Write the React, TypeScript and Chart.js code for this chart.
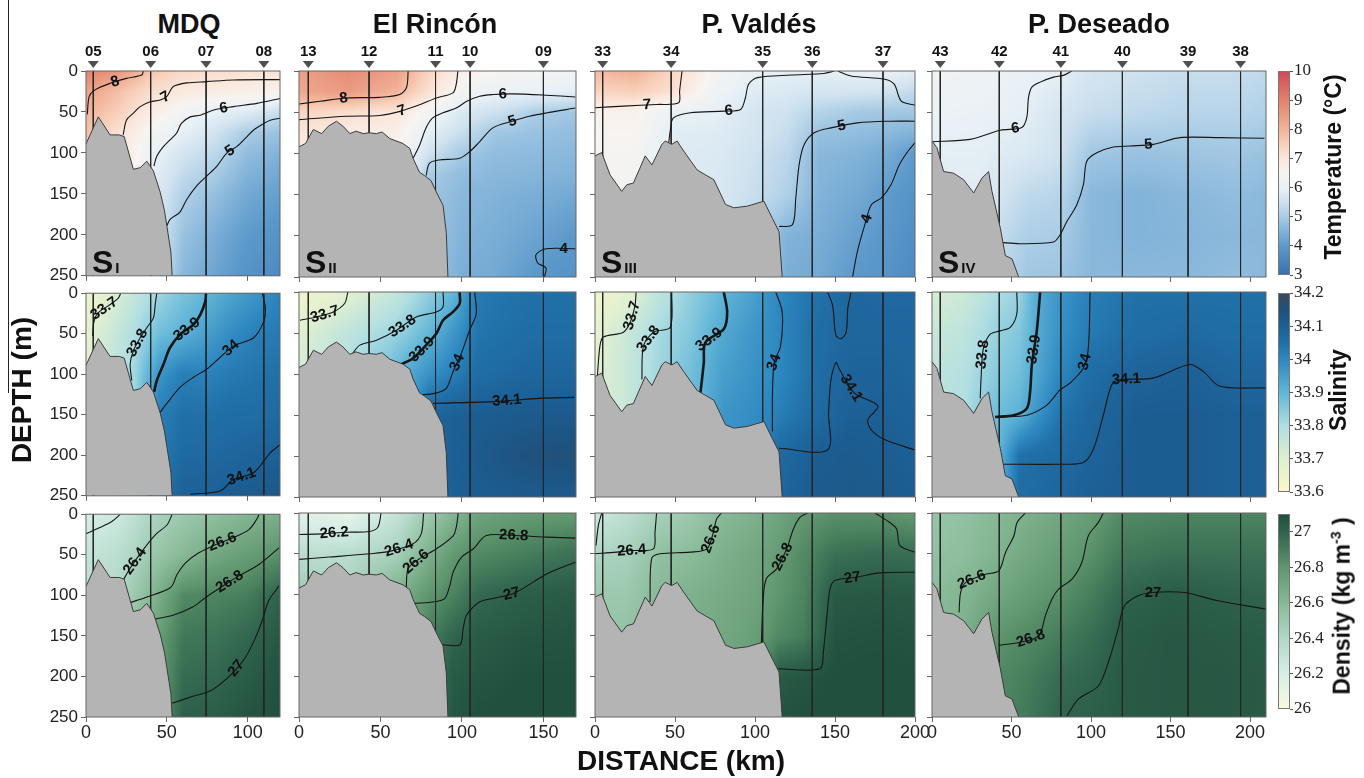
import React, { useEffect, useRef } from 'react';
import { Chart, registerables } from 'chart.js';

Chart.register(...registerables);

const FONT = '"Liberation Sans", Arial, Helvetica, sans-serif';
const SERIF = '"Liberation Serif", "Times New Roman", Times, serif';
Chart.defaults.font.family = FONT;

type P = [number, number];
type Contour = { v: string; pts: P[]; at?: number; bold?: boolean };
type Stop = [number, number, number, number];

// ---------------- column (section) data ----------------
const TITLES = ['MDQ', 'El Rincón', 'P. Valdés', 'P. Deseado'];
const SUBS = ['I', 'II', 'III', 'IV'];
const DIST_MAX = [120, 170, 200, 210];
const DIST_TICKS = [[0, 50, 100], [0, 50, 100, 150], [0, 50, 100, 150, 200], [0, 50, 100, 150, 200]];
const DEPTH_TICKS = [0, 50, 100, 150, 200, 250];

const MDQ_STATIONS = [4.5, 40, 74.3, 110];
const MDQ_STATION_NAMES = ['05', '06', '07', '08'];
const RINCON_STATIONS = [5.7, 43, 83.8, 105, 150];
const RINCON_STATION_NAMES = ['13', '12', '11', '10', '09'];
const VALDES_STATIONS = [4.8, 47.6, 104.8, 135.8, 180];
const VALDES_STATION_NAMES = ['33', '34', '35', '36', '37'];
const DESEADO_STATIONS = [5.2, 42.3, 81, 119.7, 161, 194];
const DESEADO_STATION_NAMES = ['43', '42', '41', '40', '39', '38'];

const MDQ_BATHY: P[] = [[0, 89], [7.6, 56], [14.9, 78], [20.5, 78], [23.6, 80], [29.3, 120], [33.5, 118], [37.6, 110], [41.7, 122], [45.9, 148], [48.5, 170], [50, 189], [52.5, 221], [53.3, 250]];
const RINCON_BATHY: P[] = [[0, 92], [4, 88], [8.8, 71], [13.9, 76], [18, 67], [23, 61], [27, 67], [31.2, 76], [35, 73], [39.4, 76], [43, 75], [47.5, 76], [51, 74], [55.7, 82], [63.8, 88], [68, 94], [70, 106], [74, 123], [77.1, 127], [81, 133], [84.3, 147], [88.4, 163], [90.4, 196], [91.4, 250]];
const VALDES_BATHY: P[] = [[0, 103], [4.2, 99], [9.4, 126], [16.7, 146], [19.9, 138], [24, 136], [31.4, 103], [35.6, 114], [41.8, 89], [43.9, 85], [48, 89], [51.3, 85], [55.4, 97], [63.8, 120], [69, 126], [74.3, 132], [81.6, 162], [86.8, 166], [95.2, 164], [105.6, 158], [110.9, 179], [115, 195], [117, 250]];
const DESEADO_BATHY: P[] = [[0, 85], [3.1, 93], [7.3, 122], [13.6, 124], [19.9, 132], [26.2, 148], [31.4, 130], [35.6, 122], [37.7, 146], [43, 191], [46.1, 224], [50.3, 228], [54.5, 250]];

// ---------------- temperature ----------------
const MDQ_T_X = [0, 20, 40, 60, 80, 100, 120];
const MDQ_T_D = [0, 25, 50, 75, 100, 150, 200, 250];
const MDQ_T_GRID = [
  [9.0, 8.4, 8.0, 7.8],
  [8.6, 7.8, 7.5, 7.1],
  [7.7, 7.2, 6.8, 6.4, 6.1, 5.9],
  [7.3, 6.9, 6.3, 5.95, 5.6, 5.1, 4.8, 4.6],
  [7.2, 6.8, 5.95, 5.55, 5.25, 4.75, 4.4, 4.2],
  [7.1, 6.7, 5.8, 5.0, 4.7, 4.3, 4.0, 3.8],
  [7.1, 6.6, 5.4, 4.8, 4.5, 4.1, 3.8, 3.6],
];
const MDQ_T_CONT: Contour[] = [
  { v: '8', pts: [[0.8, 53], [2, 31], [5.6, 23], [14.9, 15], [25, 9], [34.5, 5], [35.5, 0]], at: 3.3 },
  { v: '7', pts: [[23, 78], [25, 60], [29, 52], [33.5, 43.5], [39.7, 37.5], [45.9, 35.5], [50, 31], [54, 19], [62.4, 14.5], [74.8, 13], [91, 11], [120, 10.5]], at: 5.8 },
  { v: '6', pts: [[42, 116], [43.8, 104], [48, 92], [52, 84], [56, 76], [59, 64], [64.5, 56], [70.7, 54], [79, 47.6], [91.3, 43.5], [105.8, 39.5], [120, 33.5]], at: 8.5 },
  { v: '5', pts: [[50, 189], [52, 181], [58, 172.5], [62.4, 156.5], [68.6, 140], [74.8, 128], [81, 116], [87.2, 100], [93.4, 92], [99.6, 80], [103.7, 72], [110, 64], [114, 60], [120, 57.7]], at: 7.3 },
];

const RINCON_T_X = [0, 30, 60, 80, 100, 120, 145, 170];
const RINCON_T_D = [0, 25, 50, 75, 100, 125, 150, 200, 250];
const RINCON_T_GRID = [
  [8.4, 8.25, 7.4, 7.0],
  [8.8, 8.5, 7.2, 6.8],
  [8.4, 8.0, 7.0, 6.7, 6.5],
  [7.4, 7.1, 6.3, 5.9, 5.5, 5.0, 4.9],
  [6.7, 6.3, 5.7, 5.4, 4.95, 4.7, 4.6, 4.5, 4.4],
  [6.5, 6.05, 5.5, 4.9, 4.7, 4.6, 4.5, 4.4, 4.3],
  [6.4, 6.0, 5.05, 4.8, 4.65, 4.55, 4.4, 4.2, 3.95],
  [6.3, 5.9, 4.9, 4.7, 4.6, 4.5, 4.3, 3.95, 3.8],
];
const RINCON_T_CONT: Contour[] = [
  { v: '8', pts: [[0, 40], [12.9, 36.8], [29, 32.7], [49.6, 32], [61.8, 28.6], [66, 20], [67, 0]], at: 1.9 },
  { v: '7', pts: [[0, 59], [29, 55], [49.6, 54], [62, 49], [74, 41], [84.3, 32.7], [94.5, 26.5], [96.5, 16], [97.5, 0]], at: 3.1 },
  { v: '6', pts: [[70, 106], [74, 90], [78, 69], [82, 57], [88, 51], [96.5, 45], [102.7, 37], [110.8, 30.6], [119, 28.6], [131, 27.8], [151.6, 29.4], [169.6, 31.5]], at: 8.5 },
  { v: '5', pts: [[78, 127], [80, 112], [86, 108], [98.6, 106], [104.7, 98], [110.8, 86], [119, 69], [131, 61], [141.4, 55], [151.6, 51], [169.6, 45]], at: 7 },
  { v: '4', pts: [[169.6, 215.7], [151.6, 215.7], [145.5, 222.7], [146.5, 233], [151.6, 239], [150.6, 250]], at: 0.4 },
];

const VALDES_T_X = [0, 25, 50, 75, 100, 120, 140, 165, 185, 200];
const VALDES_T_D = [0, 25, 50, 75, 100, 150, 200, 250];
const VALDES_T_GRID = [
  [7.9, 7.4, 6.6, 6.5, 6.4],
  [8.1, 7.5, 6.6, 6.5, 6.4, 6.3],
  [7.3, 7.1, 6.0, 5.85, 5.8],
  [6.4, 6.2, 5.95, 5.8, 5.75, 5.7],
  [6.0, 5.8, 5.6, 5.6, 5.5, 5.4, 5.2],
  [5.95, 5.7, 5.5, 5.4, 5.25, 5.1, 4.5, 4.4],
  [5.95, 5.6, 5.15, 4.8, 4.6, 4.5, 4.4, 4.3],
  [6.0, 5.6, 4.95, 4.7, 4.5, 4.3, 4.1, 3.95],
  [6.0, 5.5, 4.9, 4.6, 4.3, 4.0, 3.9, 3.8],
  [5.9, 5.3, 4.9, 4.5, 4.0, 3.8, 3.7, 3.6],
];
const VALDES_T_CONT: Contour[] = [
  { v: '7', pts: [[0, 44.6], [17.8, 42.6], [38.7, 40.6], [52.3, 38.6], [52.9, 24], [54.4, 0]], at: 1.7 },
  { v: '6', pts: [[46, 89], [47, 73], [49, 57], [59.6, 50.7], [80.5, 48.7], [91, 46.7], [94, 32.5], [96, 16], [101.5, 8], [122.4, 4.9], [143, 3], [149.6, 0]], at: 4.3 },
  { v: '6', pts: [[151.7, 0], [160, 6], [181, 10], [187, 16], [191.4, 36.5], [200, 41.4]] },
  { v: '5', pts: [[115, 188.7], [123.4, 186.7], [125.5, 154], [127.6, 113.6], [130.8, 89], [137, 75], [147.5, 69], [164, 62.9], [185, 60.9], [200, 60.9]], at: 6.4 },
  { v: '4', pts: [[161, 250], [164, 219], [168.6, 186.7], [172.8, 162], [179, 154], [185, 138], [189.3, 117.7], [191.4, 109.6], [195.6, 97.4], [200, 87]], at: 2.3 },
];

const DESEADO_T_X = [0, 30, 60, 80, 100, 130, 160, 190, 210];
const DESEADO_T_D = [0, 50, 100, 150, 200, 250];
const DESEADO_T_GRID = [
  [6.3, 6.1, 5.9, 5.8],
  [6.2, 6.05, 5.9, 5.8, 5.6],
  [6.0, 5.9, 5.7, 5.3, 5.05, 4.9],
  [5.95, 5.6, 5.5, 5.2, 5.0, 4.85],
  [5.6, 5.4, 4.9, 4.6, 4.6, 4.6],
  [5.5, 5.3, 4.8, 4.5, 4.5, 4.6],
  [5.4, 5.2, 4.85, 4.6, 4.55, 4.6],
  [5.4, 5.2, 4.9, 4.7, 4.6, 4.7],
  [5.3, 5.1, 4.8, 4.6, 4.6, 4.6],
];
const DESEADO_T_CONT: Contour[] = [
  { v: '6', pts: [[87.9, 0], [82.6, 5.3], [76.4, 7.4], [68, 13.5], [62.8, 19.6], [60.7, 31.9], [59.6, 56.4], [56.5, 68.6], [42.9, 71.9], [24, 83], [0, 85.8]], at: 7.3 },
  { v: '5', pts: [[42.9, 208], [55.4, 209.6], [76.4, 207.5], [80.5, 199], [84.7, 183], [91, 162.6], [95.2, 138], [97.3, 109.5], [103.6, 99.3], [114, 92.3], [124.5, 91], [139, 89], [155.9, 80.9], [181, 80.9], [209, 81.7]], at: 10.8 },
];

// ---------------- salinity ----------------
const DEPTHS6 = [0, 50, 100, 150, 200, 250];
const MDQ_S_X = [0, 15, 30, 45, 60, 75, 90, 105, 120];
const MDQ_S_GRID = [
  [33.66, 33.68, 33.7],
  [33.7, 33.74, 33.76],
  [33.76, 33.8, 33.82],
  [33.82, 33.88, 33.97, 34.02],
  [33.87, 33.91, 34.02, 34.05, 34.07, 34.1],
  [33.9, 33.95, 34.01, 34.05, 34.07, 34.1],
  [33.94, 33.99, 34.03, 34.06, 34.08, 34.11],
  [33.97, 34.02, 34.04, 34.06, 34.09, 34.12],
  [34.01, 34.03, 34.05, 34.07, 34.1, 34.13],
];
const MDQ_S_CONT: Contour[] = [
  { v: '33.7', pts: [[4.1, 53], [5, 34.5], [7.6, 24], [14.9, 14], [20, 6], [21.5, 0]], at: 2.5 },
  { v: '33.8', pts: [[28.3, 107.7], [27.3, 87.4], [29.3, 71], [33.5, 55], [37.6, 42.7], [41.7, 30.5], [42.8, 14], [43.8, 0]], at: 2.6 },
  { v: '33.9', pts: [[42.1, 122], [43.8, 107.7], [48, 87.4], [52, 67], [58.3, 50.8], [66.5, 38.6], [70.7, 26.4], [73.8, 10], [74.2, 0]], at: 4.5, bold: true },
  { v: '34', pts: [[45.5, 148], [50, 136], [58.3, 116], [66.5, 103.7], [74.8, 93.5], [83, 79], [91.3, 65], [103.7, 55], [110, 34.5], [111, 18.3], [109, 0]], at: 5.8 },
  { v: '34.1', pts: [[64.5, 248], [83, 244], [91.3, 229.7], [103.7, 221.5], [114, 197], [120, 187]], at: 2.4 },
];

const RINCON_S_X = [0, 30, 60, 80, 95, 110, 140, 170];
const RINCON_S_GRID = [
  [33.64, 33.7, 33.72],
  [33.69, 33.77, 33.8],
  [33.76, 33.83, 33.9],
  [33.84, 33.9, 33.98, 34.08],
  [33.9, 33.97, 34.02, 34.1, 34.1, 34.1],
  [34.03, 34.04, 34.06, 34.11, 34.12, 34.11],
  [34.05, 34.06, 34.08, 34.12, 34.15, 34.12],
  [34.05, 34.06, 34.08, 34.12, 34.16, 34.12],
];
const RINCON_S_CONT: Contour[] = [
  { v: '33.7', pts: [[0.6, 34.4], [10.8, 30.4], [21, 24.3], [28, 14], [30, 0]], at: 1.5 },
  { v: '33.8', pts: [[32.2, 77], [37.3, 64.8], [47.6, 58.8], [59.8, 46.6], [72, 30.4], [84.3, 24.3], [88.4, 18.2], [88.4, 0]], at: 3.3 },
  { v: '33.9', pts: [[61.8, 89], [70, 81], [76, 69], [84.3, 50.6], [88.4, 34.4], [94.5, 24.3], [98.6, 14.2], [98.6, 0]], at: 1.9, bold: true },
  { v: '34', pts: [[74, 125.6], [83.3, 123.6], [90.4, 117.5], [94.5, 97.2], [99.6, 75], [104.7, 46.6], [108.8, 26.3], [107.8, 0]], at: 3.5 },
  { v: '34.1', pts: [[82.2, 135.7], [119, 133.7], [147.6, 129.7], [169, 128.5]], at: 1.3 },
];

const VALDES_S_X = [0, 20, 40, 60, 80, 100, 115, 140, 160, 180, 200];
const VALDES_S_GRID = [
  [33.64, 33.68, 33.7],
  [33.68, 33.75, 33.75],
  [33.77, 33.81, 33.82],
  [33.84, 33.86, 33.88],
  [33.9, 33.93, 33.95, 33.97],
  [33.95, 33.97, 33.98, 33.99],
  [34.0, 34.0, 34.0, 34.02, 34.07, 34.08],
  [34.05, 34.06, 34.06, 34.07, 34.11, 34.12],
  [34.08, 34.08, 34.09, 34.1, 34.12, 34.12],
  [34.07, 34.08, 34.09, 34.1, 34.11, 34.12],
  [34.07, 34.08, 34.08, 34.09, 34.1, 34.11],
];
const VALDES_S_CONT: Contour[] = [
  { v: '33.7', pts: [[1.5, 102], [3.1, 65.6], [5.2, 55], [17.8, 49], [22, 37], [25, 16.4], [25.7, 0]], at: 4.4 },
  { v: '33.8', pts: [[29.3, 106.6], [30.3, 65.6], [36.6, 49], [47, 43], [48, 0]], at: 1.5 },
  { v: '33.9', pts: [[65.9, 123], [68, 86], [69, 61.5], [80.5, 45], [82.6, 24.6], [80.5, 0]], at: 2.2, bold: true },
  { v: '34', pts: [[110.9, 170], [110.9, 127], [112, 86], [116, 65.6], [117, 24.6], [113, 0]], at: 2.0 },
  { v: '34.1', pts: [[145.4, 0], [148.5, 16.4], [150.6, 53], [153.8, 57], [157, 49], [158, 20], [160, 0]] },
  { v: '34.1', pts: [[115, 190.6], [145.4, 192.6], [146, 147.5], [147.5, 106.6], [150.6, 86], [152.7, 94], [162, 123], [176.8, 139], [170.5, 155.7], [172.6, 168], [181, 180], [199.8, 192.6]], at: 5.8 },
];

const DESEADO_S_X = [0, 20, 40, 55, 65, 80, 100, 130, 160, 190, 210];
const DESEADO_S_GRID = [
  [33.72, 33.75, 33.77],
  [33.74, 33.77, 33.79, 33.8],
  [33.8, 33.83, 33.85, 33.88],
  [33.83, 33.86, 33.88, 33.91, 34.05, 34.06],
  [33.92, 33.92, 33.93, 33.97, 34.06, 34.07],
  [33.97, 33.98, 34.0, 34.04, 34.07, 34.08],
  [34.02, 34.03, 34.06, 34.08, 34.09, 34.1],
  [34.05, 34.06, 34.09, 34.11, 34.11, 34.11],
  [34.05, 34.07, 34.1, 34.11, 34.11, 34.11],
  [34.05, 34.06, 34.08, 34.1, 34.1, 34.1],
  [34.05, 34.06, 34.08, 34.1, 34.1, 34.1],
];
const DESEADO_S_CONT: Contour[] = [
  { v: '33.8', pts: [[30.3, 129.7], [31.4, 84.4], [32.4, 68], [36.6, 51.5], [42.9, 47.4], [49.2, 43.2], [53.3, 26.8], [53.3, 0]], at: 1.5 },
  { v: '33.9', pts: [[39.7, 152.4], [51.3, 150.3], [59.6, 142], [61.7, 121.5], [62.8, 88.5], [65.9, 47.4], [68, 0]], at: 4.45, bold: true },
  { v: '34', pts: [[42.9, 152.4], [59.6, 150.3], [72.2, 138], [80.5, 119.4], [86.8, 111], [95.2, 92.7], [98.3, 68], [99.4, 0]], at: 5.3 },
  { v: '34.1', pts: [[42.9, 210], [80.5, 210], [95.2, 208], [101.5, 191.5], [107.7, 150.3], [113, 113], [118, 107], [139, 105], [162, 88.5], [170.5, 96.8], [181, 115], [210, 117]], at: 6.2 },
];

// ---------------- density ----------------
const MDQ_D_X = [0, 20, 40, 60, 80, 100, 120];
const MDQ_D_GRID = [
  [26.2, 26.3, 26.35],
  [26.25, 26.35, 26.4],
  [26.42, 26.5, 26.6, 26.7],
  [26.5, 26.6, 26.85, 26.92, 26.97, 27.02],
  [26.56, 26.7, 26.87, 26.94, 26.99, 27.03],
  [26.62, 26.76, 26.9, 26.99, 27.04, 27.08],
  [26.65, 26.82, 27.01, 27.06, 27.09, 27.1],
];
const MDQ_D_CONT: Contour[] = [
  { v: '26.2', pts: [[0, 24], [7.9, 17], [16, 9], [21.3, 0]] },
  { v: '26.4', pts: [[23.3, 80.2], [27.5, 66], [34.7, 45.6], [43, 25.2], [50.2, 13], [53.3, 0]], at: 1.4 },
  { v: '26.6', pts: [[27.7, 108.7], [36.8, 102.6], [52.3, 90.4], [56.4, 74], [61.6, 59.9], [69.8, 47.6], [80.2, 37.5], [90.5, 29.3], [100.8, 19], [106, 4.9], [107, 0]], at: 6.4 },
  { v: '26.8', pts: [[43, 129], [53.3, 125], [65.7, 114.8], [74, 102.6], [86.4, 86.3], [94.6, 76], [107, 62], [119.4, 41.5]], at: 4.3 },
  { v: '27', pts: [[53.3, 233], [65.7, 224.8], [78, 216.6], [90.5, 196.3], [98.8, 176], [105, 151.5], [109, 131], [113, 106.7], [119.4, 88.4]], at: 3.3 },
];

const RINCON_D_X = [0, 30, 60, 80, 95, 110, 140, 170];
const RINCON_D_GRID = [
  [26.15, 26.35, 26.5],
  [26.1, 26.36, 26.45],
  [26.3, 26.45, 26.65],
  [26.5, 26.65, 26.8, 26.9],
  [26.62, 26.78, 26.88, 27.0, 27.05, 27.07],
  [26.72, 26.85, 26.98, 27.04, 27.07, 27.1],
  [26.77, 26.9, 27.03, 27.07, 27.1, 27.12],
  [26.78, 26.95, 27.05, 27.08, 27.1, 27.12],
];
const RINCON_D_CONT: Contour[] = [
  { v: '26.2', pts: [[0, 26.4], [14.4, 25.6], [28.8, 23.5], [43.2, 22.7], [48.4, 17.5], [50.4, 0]], at: 1.5 },
  { v: '26.4', pts: [[0, 56.8], [18.5, 54], [43.2, 50], [55.6, 47], [70, 37.7], [75, 25.6], [76.5, 0]], at: 3.4 },
  { v: '26.6', pts: [[65.8, 92.5], [67, 68], [74, 56], [84.4, 43.8], [94.7, 27.6], [96.7, 15.4], [97.7, 0]], at: 1.7 },
  { v: '26.8', pts: [[71, 110.8], [83.3, 108.8], [89.5, 104.7], [92.6, 88.5], [94.7, 72], [99.8, 54], [107, 43.8], [115, 27.6], [131.7, 27.6], [152.3, 29.6], [169.8, 30.8]], at: 8 },
  { v: '27', pts: [[88, 161.5], [98.8, 161.5], [100.8, 141], [102.9, 125], [111, 108.8], [119.3, 104.7], [131.7, 98.6], [144, 84.4], [152.3, 74.3], [169.8, 60]], at: 5.9 },
];

const VALDES_D_X = [0, 20, 40, 60, 80, 100, 115, 130, 150, 175, 200];
const VALDES_D_GRID = [
  [26.25, 26.42, 26.5],
  [26.35, 26.45, 26.5, 26.55],
  [26.45, 26.55, 26.6],
  [26.5, 26.58, 26.65],
  [26.6, 26.65, 26.68, 26.7],
  [26.65, 26.7, 26.72, 26.75],
  [26.72, 26.77, 26.8, 26.85, 27.05, 27.08],
  [26.78, 26.85, 26.87, 26.9, 27.07, 27.1],
  [26.82, 26.95, 27.05, 27.08, 27.1, 27.12],
  [26.82, 26.97, 27.06, 27.09, 27.11, 27.13],
  [26.78, 26.96, 27.05, 27.08, 27.1, 27.12],
];
const VALDES_D_CONT: Contour[] = [
  { v: '26.2', pts: [[0.6, 40], [2.1, 15.5], [4.2, 0]] },
  { v: '26.4', pts: [[0, 50], [13.5, 48], [23, 46], [36.5, 44], [37.5, 23.7], [38.5, 0]], at: 2 },
  { v: '26.6', pts: [[34.4, 109], [35.4, 56], [40.6, 50], [59.4, 48], [70, 44], [74, 23.7], [76, 7.3], [79, 0]], at: 4.6 },
  { v: '26.8', pts: [[104, 160], [105, 109], [107, 80.8], [113.5, 68.5], [119.8, 44], [124, 19.6], [128, 5.3], [133, 0]], at: 3.6 },
  { v: '26.8', pts: [[175, 0], [184, 11.4], [188.5, 19.6], [190.6, 40], [200, 48]] },
  { v: '27', pts: [[114.6, 190.9], [140.6, 190.9], [142.7, 170.5], [144.8, 129.7], [146.9, 93], [150, 82.8], [163.5, 78.7], [178, 73.4], [200, 72.6]], at: 5.8 },
];

const DESEADO_D_X = [0, 20, 40, 60, 80, 100, 120, 150, 180, 210];
const DESEADO_D_GRID = [
  [26.52, 26.55, 26.58],
  [26.55, 26.57, 26.62, 26.65],
  [26.6, 26.63, 26.7, 26.8, 26.85],
  [26.65, 26.7, 26.77, 26.85, 26.9, 26.92],
  [26.7, 26.76, 26.82, 26.9, 26.97, 27.0],
  [26.76, 26.82, 26.9, 26.96, 27.0, 27.02],
  [26.85, 26.92, 27.0, 27.04, 27.05, 27.05],
  [26.87, 26.95, 27.04, 27.06, 27.06, 27.06],
  [26.87, 26.95, 27.02, 27.05, 27.06, 27.06],
  [26.87, 26.95, 27.0, 27.04, 27.05, 27.05],
];
const DESEADO_D_CONT: Contour[] = [
  { v: '26.6', pts: [[17, 122], [18, 97.4], [21.25, 85], [33.75, 75], [42, 70.8], [46.25, 48.3], [51.5, 27.8], [53.5, 11.5], [58.75, 0]], at: 2.3 },
  { v: '26.8', pts: [[42, 162], [54.6, 158.8], [67, 150.6], [71.25, 126], [75.4, 105.6], [79.6, 93.3], [88, 81], [94.2, 60.6], [98.3, 27.8], [104.6, 11.5], [107.7, 0]], at: 1.6 },
  { v: '27', pts: [[84.8, 248.8], [92, 228], [104.6, 212], [110.8, 183.3], [117, 142.4], [121, 113.7], [129.6, 101.5], [137.9, 97.4], [158.75, 97.4], [179.6, 107.6], [210.4, 117.8]], at: 7.05 },
];

// ---------------- colour scales ----------------
const TEMP_TICKS = [3, 4, 5, 6, 7, 8, 9, 10];
const SAL_TICKS = [33.6, 33.7, 33.8, 33.9, 34, 34.1, 34.2];
const DENS_TICKS = [26, 26.2, 26.4, 26.6, 26.8, 27];
const TEMP_STOPS: Stop[] = [
  [3.0, 59, 111, 176], [3.5, 74, 134, 192], [4.0, 93, 154, 203], [4.5, 130, 179, 217], [5.0, 169, 204, 229],
  [5.5, 207, 226, 239], [6.0, 233, 241, 246], [6.5, 247, 244, 241], [7.0, 251, 230, 218], [7.5, 248, 208, 187],
  [8.0, 242, 180, 154], [9.0, 227, 130, 108], [10.0, 210, 73, 93],
];
const SAL_STOPS: Stop[] = [
  [33.6, 250, 246, 205], [33.7, 224, 240, 208], [33.8, 176, 222, 226], [33.9, 98, 182, 216], [34.0, 46, 136, 192],
  [34.05, 33, 112, 168], [34.1, 28, 96, 150], [34.15, 30, 82, 126], [34.2, 62, 74, 88],
];
const DENS_STOPS: Stop[] = [
  [26.0, 250, 250, 222], [26.2, 215, 238, 232], [26.4, 178, 216, 200], [26.6, 135, 185, 150], [26.8, 95, 150, 110],
  [26.9, 70, 125, 92], [27.0, 48, 100, 78], [27.1, 32, 80, 62],
];

// ---------------- assembled tables ----------------
const STATIONS = [MDQ_STATIONS, RINCON_STATIONS, VALDES_STATIONS, DESEADO_STATIONS];
const STATION_NAMES = [MDQ_STATION_NAMES, RINCON_STATION_NAMES, VALDES_STATION_NAMES, DESEADO_STATION_NAMES];
const BATHY = [MDQ_BATHY, RINCON_BATHY, VALDES_BATHY, DESEADO_BATHY];
type Field = { xs: number[]; ds: number[]; grid: number[][]; stops: Stop[]; cont: Contour[] };
const FIELDS: Field[][] = [
  [
    { xs: MDQ_T_X, ds: MDQ_T_D, grid: MDQ_T_GRID, stops: TEMP_STOPS, cont: MDQ_T_CONT },
    { xs: RINCON_T_X, ds: RINCON_T_D, grid: RINCON_T_GRID, stops: TEMP_STOPS, cont: RINCON_T_CONT },
    { xs: VALDES_T_X, ds: VALDES_T_D, grid: VALDES_T_GRID, stops: TEMP_STOPS, cont: VALDES_T_CONT },
    { xs: DESEADO_T_X, ds: DESEADO_T_D, grid: DESEADO_T_GRID, stops: TEMP_STOPS, cont: DESEADO_T_CONT },
  ],
  [
    { xs: MDQ_S_X, ds: DEPTHS6, grid: MDQ_S_GRID, stops: SAL_STOPS, cont: MDQ_S_CONT },
    { xs: RINCON_S_X, ds: DEPTHS6, grid: RINCON_S_GRID, stops: SAL_STOPS, cont: RINCON_S_CONT },
    { xs: VALDES_S_X, ds: DEPTHS6, grid: VALDES_S_GRID, stops: SAL_STOPS, cont: VALDES_S_CONT },
    { xs: DESEADO_S_X, ds: DEPTHS6, grid: DESEADO_S_GRID, stops: SAL_STOPS, cont: DESEADO_S_CONT },
  ],
  [
    { xs: MDQ_D_X, ds: DEPTHS6, grid: MDQ_D_GRID, stops: DENS_STOPS, cont: MDQ_D_CONT },
    { xs: RINCON_D_X, ds: DEPTHS6, grid: RINCON_D_GRID, stops: DENS_STOPS, cont: RINCON_D_CONT },
    { xs: VALDES_D_X, ds: DEPTHS6, grid: VALDES_D_GRID, stops: DENS_STOPS, cont: VALDES_D_CONT },
    { xs: DESEADO_D_X, ds: DEPTHS6, grid: DESEADO_D_GRID, stops: DENS_STOPS, cont: DESEADO_D_CONT },
  ],
];

// ---------------- layout (pixels) ----------------
const PLOT_LEFT = [86, 299, 595, 932];
const PLOT_RIGHT = [280, 576, 915, 1266];
const PLOT_TOP = [71, 292, 513];
const PLOT_BOTTOM = [277, 497, 717];
const TITLE_X = [189, 435, 759, 1099];

// ---------------- helpers ----------------
function cmap(stops: Stop[], v: number): [number, number, number] {
  if (v <= stops[0][0]) return [stops[0][1], stops[0][2], stops[0][3]];
  for (let k = 1; k < stops.length; k++) {
    if (v <= stops[k][0]) {
      const a = stops[k - 1], b = stops[k];
      const t = (v - a[0]) / (b[0] - a[0]);
      return [a[1] + (b[1] - a[1]) * t, a[2] + (b[2] - a[2]) * t, a[3] + (b[3] - a[3]) * t];
    }
  }
  const l = stops[stops.length - 1];
  return [l[1], l[2], l[3]];
}
function seg(arr: number[], v: number): [number, number] {
  if (v <= arr[0]) return [0, 0];
  for (let i = 0; i < arr.length - 1; i++) {
    if (v <= arr[i + 1]) return [i, (v - arr[i]) / (arr[i + 1] - arr[i])];
  }
  return [arr.length - 2, 1];
}
function fullGrid(grid: number[][], n: number): number[][] {
  return grid.map((row) => {
    const r = row.slice();
    while (r.length < n) r.push(r[r.length - 1]);
    return r;
  });
}
function sample(f: Field, g: number[][], x: number, d: number) {
  const [i, tx] = seg(f.xs, x);
  const [j, td] = seg(f.ds, d);
  const a = g[i][j] * (1 - td) + g[i][j + 1] * td;
  const b = g[i + 1][j] * (1 - td) + g[i + 1][j + 1] * td;
  return a * (1 - tx) + b * tx;
}
const toXY = (pts: P[]) => pts.map(([x, y]) => ({ x, y }));

function Panel({ row, col }: { row: number; col: number }) {
  const ref = useRef<HTMLCanvasElement>(null);
  const YW = col === 0 ? 55 : 12;
  const TOP = row === 0 ? 30 : 12;
  const XH = row === 2 ? 30 : 12;
  const RP = 24;
  const W = PLOT_RIGHT[col] - PLOT_LEFT[col] + YW + RP;
  const H = PLOT_BOTTOM[row] - PLOT_TOP[row] + TOP + XH;

  useEffect(() => {
    const f = FIELDS[row][col];
    const g = fullGrid(f.grid, f.ds.length);
    const stations = STATIONS[col];
    const names = STATION_NAMES[col];
    const datasets: any[] = [];
    stations.forEach((s) =>
      datasets.push({ data: [{ x: s, y: 0 }, { x: s, y: 250 }], borderColor: '#262626', borderWidth: 1, pointRadius: 0, tension: 0, order: 4, fill: false })
    );
    f.cont.forEach((c) =>
      datasets.push({ data: toXY(c.pts), borderColor: '#161616', borderWidth: c.bold ? 2.6 : 1.1, pointRadius: 0, tension: 0.3, order: 3, fill: false })
    );
    datasets.push({ data: toXY(BATHY[col]), borderColor: '#3c3c3c', borderWidth: 1, backgroundColor: '#b4b4b4', fill: { value: 250 }, pointRadius: 0, tension: 0, order: 2 });

    const tickGrid = { drawOnChartArea: false, drawTicks: true, tickLength: 5, color: '#666' };
    const scales: any = {
      x: {
        type: 'linear', position: 'bottom', min: 0, max: DIST_MAX[col], bounds: 'data',
        afterBuildTicks: (s: any) => { s.ticks = DIST_TICKS[col].map((v) => ({ value: v })); },
        afterFit: (s: any) => { s.height = XH; },
        grid: tickGrid, border: { display: false },
        ticks: { display: row === 2, font: { size: 18, family: FONT }, color: '#222', padding: 0, maxRotation: 0, autoSkip: false },
      },
      y: {
        type: 'linear', reverse: true, min: 0, max: 250, bounds: 'data',
        afterBuildTicks: (s: any) => { s.ticks = DEPTH_TICKS.map((v) => ({ value: v })); },
        afterFit: (s: any) => { s.width = YW; },
        grid: tickGrid, border: { display: false },
        ticks: { display: col === 0, font: { size: 17, family: FONT }, color: '#222', padding: 3, autoSkip: false },
      },
    };
    if (row === 0) {
      scales.x2 = {
        type: 'linear', position: 'top', min: 0, max: DIST_MAX[col], bounds: 'data',
        afterBuildTicks: (s: any) => { s.ticks = stations.map((v) => ({ value: v })); },
        afterFit: (s: any) => { s.height = TOP; },
        grid: { display: false, drawTicks: false }, border: { display: false },
        ticks: { font: { size: 15, weight: 'bold', family: FONT }, color: '#111', padding: 10, maxRotation: 0, autoSkip: false, callback: (_v: any, i: number) => names[i] },
      };
    }

    const heat = {
      id: 'heat',
      beforeDatasetsDraw(chart: any) {
        const { left, top, width, height } = chart.chartArea;
        const w = Math.round(width), h = Math.round(height);
        const off = document.createElement('canvas');
        off.width = w; off.height = h;
        const octx = off.getContext('2d')!;
        const img = octx.createImageData(w, h);
        const xs = chart.scales.x, ys = chart.scales.y;
        const xv: number[] = [];
        for (let i = 0; i < w; i++) xv.push(xs.getValueForPixel(left + i + 0.5));
        for (let j = 0; j < h; j++) {
          const d = ys.getValueForPixel(top + j + 0.5);
          for (let i = 0; i < w; i++) {
            const [r, gg, b] = cmap(f.stops, sample(f, g, xv[i], d));
            const k = (j * w + i) * 4;
            img.data[k] = r; img.data[k + 1] = gg; img.data[k + 2] = b; img.data[k + 3] = 255;
          }
        }
        octx.putImageData(img, 0, 0);
        chart.ctx.drawImage(off, left, top);
      },
      afterDatasetsDraw(chart: any) {
        const ctx = chart.ctx;
        const xs = chart.scales.x, ys = chart.scales.y;
        ctx.save();
        ctx.font = `bold 15px ${FONT}`;
        ctx.fillStyle = '#111';
        ctx.textAlign = 'center';
        ctx.textBaseline = 'middle';
        f.cont.forEach((c) => {
          if (c.at === undefined) return;
          const i0 = Math.min(Math.floor(c.at), c.pts.length - 2);
          const t = c.at - i0;
          const a = c.pts[i0], b = c.pts[i0 + 1];
          const ax = xs.getPixelForValue(a[0]), ay = ys.getPixelForValue(a[1]);
          const bx = xs.getPixelForValue(b[0]), by = ys.getPixelForValue(b[1]);
          const px = ax + (bx - ax) * t, py = ay + (by - ay) * t;
          let ang = Math.atan2(by - ay, bx - ax);
          if (ang > Math.PI / 2) ang -= Math.PI;
          if (ang < -Math.PI / 2) ang += Math.PI;
          ctx.save();
          ctx.translate(px, py);
          ctx.rotate(ang);
          ctx.fillText(c.v, 0, 0);
          ctx.restore();
        });
        ctx.restore();
      },
      afterDraw(chart: any) {
        const ctx = chart.ctx;
        const { left, top, width, height } = chart.chartArea;
        ctx.save();
        ctx.strokeStyle = '#666';
        ctx.lineWidth = 1;
        ctx.strokeRect(left, top, width, height);
        if (row === 0) {
          ctx.fillStyle = '#4f4f4f';
          stations.forEach((s) => {
            const px = chart.scales.x.getPixelForValue(s);
            ctx.beginPath();
            ctx.moveTo(px - 5.5, top - 10);
            ctx.lineTo(px + 5.5, top - 10);
            ctx.lineTo(px, top - 3);
            ctx.closePath();
            ctx.fill();
          });
        }
        ctx.restore();
      },
    };

    const chart = new Chart(ref.current as HTMLCanvasElement, {
      type: 'line',
      data: { datasets },
      options: {
        responsive: false, animation: false, devicePixelRatio: 1, events: [],
        layout: { padding: { top: row === 0 ? 0 : TOP, right: RP, left: 0, bottom: 0 } },
        plugins: { legend: { display: false }, tooltip: { enabled: false } },
        scales,
      } as any,
      plugins: [heat as any],
    });
    return () => chart.destroy();
  }, []);

  return (
    <canvas ref={ref} width={W} height={H}
      style={{ position: 'absolute', left: PLOT_LEFT[col] - YW, top: PLOT_TOP[row] - TOP, width: W, height: H }} />
  );
}

function ColorBar({ top, bottom, min, max, ticks, stops }: { top: number; bottom: number; min: number; max: number; ticks: number[]; stops: Stop[] }) {
  const ref = useRef<HTMLCanvasElement>(null);
  const PAD = 12, BW = 12, AW = 56;
  const W = BW + AW, H = bottom - top + 2 * PAD;
  useEffect(() => {
    const chart = new Chart(ref.current as HTMLCanvasElement, {
      type: 'line',
      data: { datasets: [{ data: [] }] },
      options: {
        responsive: false, animation: false, devicePixelRatio: 1, events: [],
        layout: { padding: { top: PAD, bottom: PAD, left: 0, right: 0 } },
        plugins: { legend: { display: false }, tooltip: { enabled: false } },
        scales: {
          x: { type: 'linear', display: false, min: 0, max: 1 },
          y: {
            type: 'linear', position: 'right', min, max, bounds: 'data',
            afterBuildTicks: (s: any) => { s.ticks = ticks.map((v) => ({ value: v })); },
            afterFit: (s: any) => { s.width = AW; },
            grid: { drawOnChartArea: false, drawTicks: true, tickLength: 3, color: '#555' },
            border: { display: false },
            ticks: { font: { size: 17, family: SERIF }, color: '#222', padding: 1, autoSkip: false, callback: (v: any) => String(+(+v).toFixed(1)) },
          },
        },
      } as any,
      plugins: [{
        id: 'cbar',
        beforeDatasetsDraw(ch: any) {
          const { left, top: t, width, height } = ch.chartArea;
          const ctx = ch.ctx;
          for (let j = 0; j < Math.round(height); j++) {
            const v = ch.scales.y.getValueForPixel(t + j + 0.5);
            const [r, g, b] = cmap(stops, v);
            ctx.fillStyle = `rgb(${r | 0},${g | 0},${b | 0})`;
            ctx.fillRect(left, t + j, width, 1);
          }
          ctx.strokeStyle = '#777';
          ctx.lineWidth = 1;
          ctx.strokeRect(left + 0.5, t + 0.5, width - 1, height - 1);
        },
      } as any],
    });
    return () => chart.destroy();
  }, []);
  return <canvas ref={ref} width={W} height={H} style={{ position: 'absolute', left: 1278, top: top - PAD, width: W, height: H }} />;
}

function Txt({ x, y, size, rot = 0, children, bold = true }: { x: number; y: number; size: number; rot?: number; children: any; bold?: boolean }) {
  return (
    <div style={{
      position: 'absolute', left: x, top: y, transform: `translate(-50%, -50%) rotate(${rot}deg)`,
      font: `${bold ? 'bold ' : ''}${size}px ${FONT}`, lineHeight: 1, whiteSpace: 'nowrap', color: '#111',
    }}>{children}</div>
  );
}

export default function App() {
  useEffect(() => {
    document.body.style.margin = '0';
    document.body.style.overflow = 'hidden';
  }, []);
  const panels: any[] = [];
  for (let r = 0; r < 3; r++) for (let c = 0; c < 4; c++) panels.push(<Panel key={`${r}-${c}`} row={r} col={c} />);
  return (
    <div style={{ position: 'absolute', left: 0, top: 0, width: 1364, height: 778, background: '#fff', overflow: 'hidden', fontFamily: FONT }}>
      {panels}
      <ColorBar top={71} bottom={275} min={3} max={10} ticks={TEMP_TICKS} stops={TEMP_STOPS} />
      <ColorBar top={293} bottom={492} min={33.6} max={34.2} ticks={SAL_TICKS} stops={SAL_STOPS} />
      <ColorBar top={514} bottom={709} min={26} max={27.1} ticks={DENS_TICKS} stops={DENS_STOPS} />
      {TITLES.map((t, i) => <Txt key={t} x={TITLE_X[i]} y={24} size={27}>{t}</Txt>)}
      {SUBS.map((s, i) => (
        <div key={s} style={{ position: 'absolute', left: PLOT_LEFT[i] + 6, top: PLOT_BOTTOM[0] - 31, font: `bold 32px ${FONT}`, lineHeight: '32px', color: '#111', whiteSpace: 'nowrap' }}>
          S<span style={{ fontSize: 15, marginLeft: 2 }}>{s}</span>
        </div>
      ))}
      <Txt x={22} y={390} size={28} rot={-90}>DEPTH (m)</Txt>
      <Txt x={681} y={761} size={28}>DISTANCE (km)</Txt>
      <Txt x={1333} y={167} size={23} rot={-90}>Temperature (°C)</Txt>
      <Txt x={1338} y={390} size={23} rot={-90}>Salinity</Txt>
      <Txt x={1341} y={606} size={23} rot={-90}>Density (kg m<sup style={{ fontSize: 14 }}>-3</sup> )</Txt>
      <div style={{ position: 'absolute', left: 8, top: 0, width: 1, height: 393, background: '#222' }} />
    </div>
  );
}
